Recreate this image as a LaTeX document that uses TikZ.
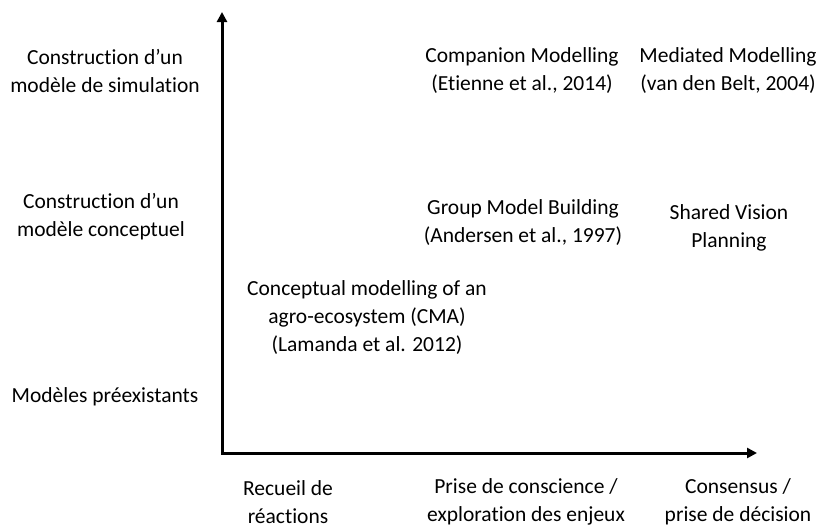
\documentclass[tikz,border=0pt]{standalone}
\usepackage{fontspec}
\setmainfont{Carlito}[Ligatures=NoCommon]
\usetikzlibrary{arrows.meta}

\begin{document}
\begin{tikzpicture}[x=1pt, y=-1pt, >={Triangle[length=10pt,width=10pt]},
	txt/.style={align=center, inner sep=0pt, font=\fontsize{21.5}{28}\selectfont}]
	\useasboundingbox (0,0) rectangle (816,528);
	
	% Eixos
	\coordinate (origem) at (222,453);
	\coordinate (topo) at (222,12);
	\coordinate (fim) at (757,453);
	\draw[<->, line width=3pt] (topo) -- (origem) -- (fim);
	
	% Rotulos eixo vertical
	\node[txt] (simul) at (105,71) {Construction d’un\\modèle de simulation};
	\node[txt] (concept) at (101,217) {Construction d’un\\modèle conceptuel};
	\node[txt] (preex) at (105,397) {Modèles préexistants};
	
	% Rotulos eixo horizontal
	\node[txt] (recueil) at (288,502) {Recueil de\\réactions};
	\node[txt] (prise) at (526,502) {Prise de conscience /\\exploration des enjeux};
	\node[txt] (consensus) at (738,502) {Consensus /\\prise de décision};
	
	% Abordagens
	\node[txt] (compan) at (522,71) {Companion Modelling\\(Etienne et al., 2014)};
	\node[txt] (mediated) at (728,71) {Mediated Modelling\\(van den Belt, 2004)};
	\node[txt] (gmb) at (523,223) {Group Model Building\\(Andersen et al., 1997)};
	\node[txt] (svp) at (729,228) {Shared Vision\\Planning};
	\node[txt] (cma) at (367,318) {Conceptual modelling of an\\agro-ecosystem (CMA)\\(Lamanda et al. 2012)};
\end{tikzpicture}
\end{document}
